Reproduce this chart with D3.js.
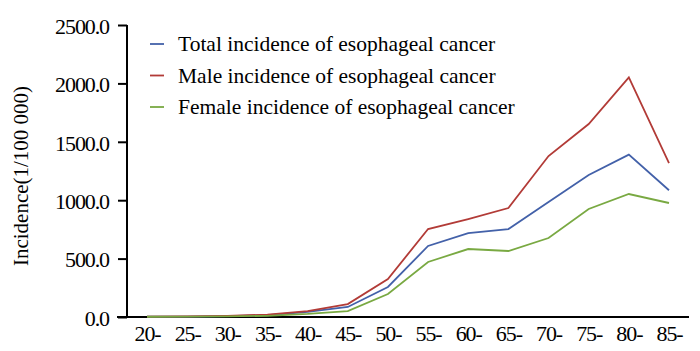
<!DOCTYPE html>
<html><head><meta charset="utf-8">
<script src="https://cdn.jsdelivr.net/npm/d3@7/dist/d3.min.js"></script>
<style>body{margin:0;background:#fff}svg{display:block}</style>
</head><body>
<svg id="c" width="700" height="351"></svg>
<script>
const categories = ["20-","25-","30-","35-","40-","45-","50-","55-","60-","65-","70-","75-","80-","85-"];
const totalValues  = [2, 4, 8, 15, 43, 86, 257, 608, 719, 753, 985, 1216, 1390, 1085];
const maleValues   = [3, 5, 10, 20, 51, 111, 325, 753, 839, 933, 1378, 1652, 2052, 1318];
const femaleValues = [2, 3, 6, 10, 26, 51, 197, 471, 582, 565, 676, 925, 1053, 976];
const yTicks = [0, 500, 1000, 1500, 2000, 2500];
const seriesNames = ["Total incidence of esophageal cancer","Male incidence of esophageal cancer","Female incidence of esophageal cancer"];
const seriesColors = ["#4361a9","#b23b37","#79a942"];
const seriesValues = [totalValues, maleValues, femaleValues];

const svg = d3.select("#c");
const font = "'Liberation Serif','Times New Roman',serif";
const x = d3.scalePoint().domain(categories).range([147, 669]);
const y = d3.scaleLinear().domain([0, 2500]).range([317, 25]);

// axes
const yAxis = svg.append("g").attr("transform","translate(127,0)")
  .call(d3.axisLeft(y).tickValues(yTicks).tickFormat(d3.format(".1f")).tickSize(9).tickPadding(9));
yAxis.select(".domain").attr("d","M0,25V317").attr("stroke","#000").attr("stroke-width",2);
yAxis.selectAll(".tick line").attr("stroke","#000").attr("stroke-width",2);
yAxis.selectAll(".tick text").attr("font-family",font).attr("font-size",22)
  .attr("letter-spacing","-1.1px").attr("fill","#000").attr("dy","0.38em");

const xAxis = svg.append("g").attr("transform","translate(0,317)")
  .call(d3.axisBottom(x).tickSize(0).tickPadding(10));
xAxis.select(".domain").attr("d","M117,0H689").attr("stroke","#000").attr("stroke-width",2);
xAxis.selectAll(".tick text").attr("font-family",font).attr("font-size",22)
  .attr("letter-spacing","-1.1px").attr("fill","#000").attr("dy","0.62em");

// y title
svg.append("text").attr("transform","translate(28,176) rotate(-90)")
  .attr("text-anchor","middle").attr("font-family",font).attr("font-size",21)
  .attr("fill","#000").text("Incidence(1/100 000)");

// lines
const line = d3.line().x((d,i)=>x(categories[i])).y(d=>y(d));
seriesValues.forEach((vals,k)=>{
  svg.append("path").datum(vals).attr("d",line).attr("fill","none")
    .attr("stroke",seriesColors[k]).attr("stroke-width",1.8).attr("stroke-linejoin","miter");
});

// legend
const lg = svg.append("g");
seriesNames.forEach((n,k)=>{
  const yy = 44 + k*31.5;
  lg.append("line").attr("x1",150).attr("x2",164).attr("y1",yy).attr("y2",yy)
    .attr("stroke",seriesColors[k]).attr("stroke-width",1.8);
  lg.append("text").attr("x",178).attr("y",yy).attr("dy","0.33em")
    .attr("font-family",font).attr("font-size",21.5).attr("fill","#000").text(n);
});
</script>
</body></html>
